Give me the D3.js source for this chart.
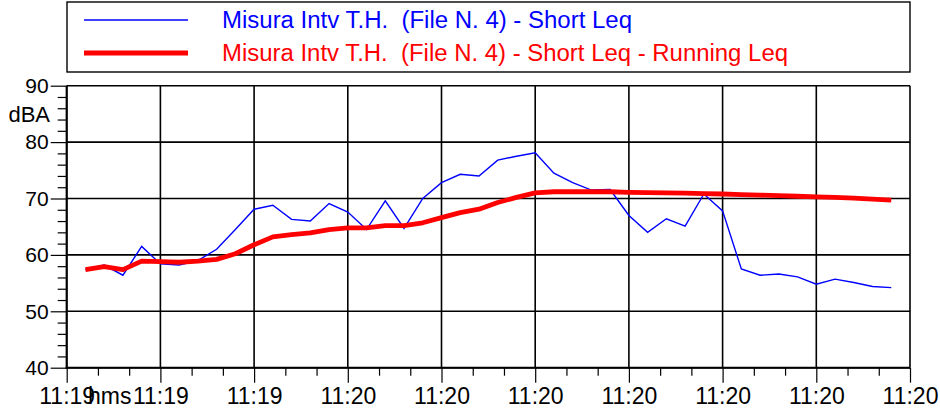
<!DOCTYPE html>
<html>
<head>
<meta charset="utf-8">
<script src="https://cdn.jsdelivr.net/npm/d3@7"></script>
<style>
  html, body { margin: 0; padding: 0; background: #fff; }
  svg { display: block; font-family: "Liberation Sans", Arial, sans-serif; }
  text { white-space: pre; }
</style>
</head>
<body>
<svg id="chart" width="940" height="410"></svg>
<script>
// Sample index (one Short Leq value per step)
const samples = d3.range(1, 45);

// Short Leq, dBA
const shortLeq = [
  57.4, 58.2, 56.4, 61.5, 58.4, 58.2, 59.0, 61.0, 64.5, 68.1,
  68.8, 66.3, 66.0, 69.1, 67.6, 64.5, 69.6, 64.7, 70.0, 72.8,
  74.3, 74.0, 76.8, 77.5, 78.1, 74.5, 72.8, 71.5, 71.6, 67.0,
  64.0, 66.4, 65.1, 70.8, 67.8, 57.5, 56.4, 56.6, 56.1, 54.8,
  55.7, 55.1, 54.4, 54.2
];

// Running Leq, dBA
const runningLeq = [
  57.4, 57.9, 57.4, 58.9, 58.8, 58.7, 58.9, 59.2, 60.2, 61.8,
  63.2, 63.6, 63.9, 64.5, 64.8, 64.8, 65.2, 65.2, 65.7, 66.6,
  67.5, 68.1, 69.3, 70.2, 71.0, 71.2, 71.2, 71.2, 71.2, 71.1,
  71.05, 71.0, 70.95, 70.85, 70.8, 70.7, 70.6, 70.5, 70.4, 70.3,
  70.2, 70.05, 69.9, 69.7
];

// Time labels under the major ticks (every 5 samples)
const xTickValues = [0, 5, 10, 15, 20, 25, 30, 35, 40, 45];
const xTickLabels = ["11:19", "11:19", "11:19", "11:20", "11:20", "11:20", "11:20", "11:20", "11:20", "11:20"];

const yTickValues = [40, 50, 60, 70, 80, 90];

const seriesNames = [
  "Misura Intv T.H.  (File N. 4) - Short Leq",
  "Misura Intv T.H.  (File N. 4) - Short Leq - Running Leq"
];
const seriesColors = ["#0000ff", "#ff0000"];

const svg = d3.select("#chart");
const plot = { left: 66.7, right: 910, top: 85.7, bottom: 367.7 };

const x = d3.scaleLinear().domain([0, 45]).range([plot.left, plot.right]);
const y = d3.scaleLinear().domain([40, 90]).range([plot.bottom, plot.top]);

// Grid lines
const grid = svg.append("g").attr("stroke", "#000").attr("stroke-width", 1.6);
grid.selectAll("line.v").data(xTickValues).join("line")
  .attr("x1", d => x(d)).attr("x2", d => x(d))
  .attr("y1", plot.top).attr("y2", plot.bottom);
grid.selectAll("line.h").data(yTickValues).join("line")
  .attr("x1", plot.left).attr("x2", plot.right)
  .attr("y1", d => y(d)).attr("y2", d => y(d));

// Y axis: major ticks with labels, minor every 2 dB
const yAxis = d3.axisLeft(y).tickValues(yTickValues).tickSize(16).tickPadding(2)
  .tickFormat(d3.format("d"));
const gy = svg.append("g").attr("transform", `translate(${plot.left},0)`).call(yAxis);
const gyMinor = svg.append("g").attr("transform", `translate(${plot.left},0)`)
  .call(d3.axisLeft(y).tickValues(d3.range(40, 91, 2).filter(v => v % 10 !== 0)).tickSize(9).tickFormat(""));

// X axis: major ticks with time labels, minor every third of an interval
const xAxis = d3.axisBottom(x).tickValues(xTickValues).tickSize(15).tickPadding(5)
  .tickFormat((d, i) => xTickLabels[i]);
const gx = svg.append("g").attr("transform", `translate(0,${plot.bottom})`).call(xAxis);
const minorX = [];
xTickValues.slice(0, -1).forEach(v => { minorX.push(v + 5 / 3, v + 10 / 3); });
const gxMinor = svg.append("g").attr("transform", `translate(0,${plot.bottom})`)
  .call(d3.axisBottom(x).tickValues(minorX).tickSize(8).tickFormat(""));

[gy, gyMinor, gx, gxMinor].forEach(g => {
  g.select(".domain").remove();
  g.selectAll(".tick line").attr("stroke", "#000").attr("stroke-width", 1.2);
  g.selectAll(".tick text").attr("fill", "#000")
    .attr("font-family", "Liberation Sans, Arial, sans-serif");
});
gy.selectAll(".tick text").attr("font-size", 21);
gx.selectAll(".tick text").attr("font-size", 23);

// Axis frame (left and bottom)
svg.append("line").attr("x1", plot.left).attr("x2", plot.left)
  .attr("y1", plot.top).attr("y2", plot.bottom + 1)
  .attr("stroke", "#000").attr("stroke-width", 2);
svg.append("line").attr("x1", plot.left - 1).attr("x2", plot.right)
  .attr("y1", plot.bottom).attr("y2", plot.bottom)
  .attr("stroke", "#000").attr("stroke-width", 2);

// Unit labels
svg.append("text").attr("x", 50).attr("y", 122.3).attr("text-anchor", "end")
  .attr("font-size", 22).text("dBA");
svg.append("text").attr("x", 88).attr("y", 404)
  .attr("font-size", 23).text("hms");

// Series lines
const line = d3.line().x((d, i) => x(samples[i])).y(d => y(d));
svg.append("path").datum(shortLeq).attr("d", line)
  .attr("fill", "none").attr("stroke", seriesColors[0]).attr("stroke-width", 1.4)
  .attr("stroke-linejoin", "miter");
svg.append("path").datum(runningLeq).attr("d", line)
  .attr("fill", "none").attr("stroke", seriesColors[1]).attr("stroke-width", 4.8)
  .attr("stroke-linejoin", "round");

// Legend
const legend = svg.append("g");
legend.append("rect").attr("x", 67).attr("y", 2).attr("width", 843).attr("height", 70)
  .attr("fill", "#fff").attr("stroke", "#000").attr("stroke-width", 1.4);
const rows = [{ y: 20, w: 1.4, len: 410 }, { y: 53, w: 4.8, len: 566 }];
rows.forEach((r, i) => {
  legend.append("line").attr("x1", 84).attr("x2", 188).attr("y1", r.y).attr("y2", r.y)
    .attr("stroke", seriesColors[i]).attr("stroke-width", r.w);
  legend.append("text").attr("x", 222).attr("y", r.y + 8)
    .attr("font-size", 23).attr("fill", seriesColors[i])
    .attr("textLength", r.len).attr("lengthAdjust", "spacingAndGlyphs")
    .text(seriesNames[i]);
});
</script>
</body>
</html>
